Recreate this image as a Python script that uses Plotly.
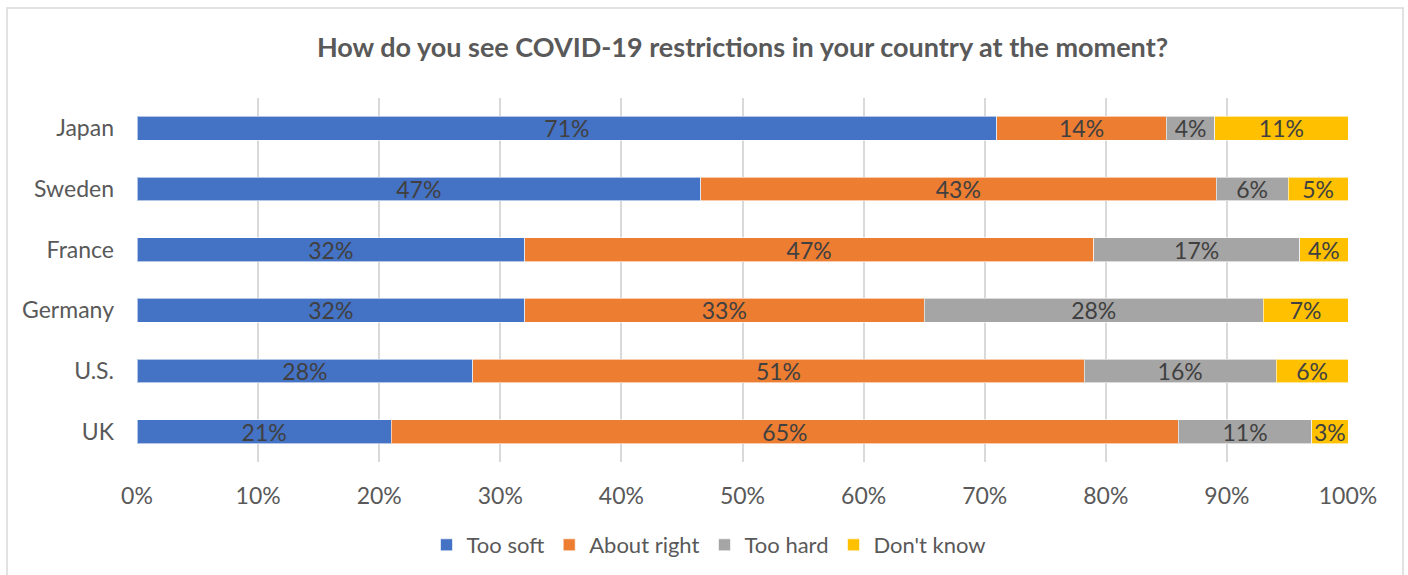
import plotly.graph_objects as go

countries = ["Japan", "Sweden", "France", "Germany", "U.S.", "UK"]
too_soft = [71, 47, 32, 32, 28, 21]
about_right = [14, 43, 47, 33, 51, 65]
too_hard = [4, 6, 17, 28, 16, 11]
dont_know = [11, 5, 4, 7, 6, 3]
tick_vals = [0, 10, 20, 30, 40, 50, 60, 70, 80, 90, 100]
tick_text = ["0%", "10%", "20%", "30%", "40%", "50%", "60%", "70%", "80%", "90%", "100%"]

series = [
    ("Too soft", too_soft, "#4472C4"),
    ("About right", about_right, "#ED7D31"),
    ("Too hard", too_hard, "#A5A5A5"),
    ("Don't know", dont_know, "#FFC000"),
]

FONT = "Lato"
FS = 23
fig = go.Figure()
for name, vals, color in series:
    fig.add_trace(go.Bar(
        y=countries, x=vals, name=name, orientation="h",
        marker=dict(color=color, line=dict(color="rgba(255,255,255,0.6)", width=1)),
        text=[f"{v}%" for v in vals], textposition="inside",
        insidetextanchor="middle", constraintext="none",
        textfont=dict(family=FONT, size=FS, color="#404040"),
    ))

W, H = 1408, 575
L, R, T, B = 137, 60, 98, 113
pw, ph = W - L - R, H - T - B

def px_x(p):
    return (p - L) / pw

def px_y(p):
    return (H - B - p) / ph

fig.update_layout(
    width=W, height=H,
    barmode="stack", barnorm="percent", bargap=0.605,
    margin=dict(l=L, r=R, t=T, b=B, autoexpand=False),
    paper_bgcolor="white", plot_bgcolor="white",
    font=dict(family=FONT, color="#595959"),
    title=dict(text="<b>How do you see COVID-19 restrictions in your country at the moment?</b>",
               x=0.5, xref="paper", xanchor="center", y=1 - 48 / H, yanchor="middle",
               font=dict(family=FONT, size=27, color="#595959")),
    xaxis=dict(range=[0, 100], tickvals=tick_vals, ticktext=tick_text, automargin=False,
               showgrid=True, gridcolor="#d9d9d9", gridwidth=1.5,
               zeroline=False, showline=False, ticks="",
               tickfont=dict(family=FONT, size=FS, color="#595959"), ticklabelstandoff=18),
    yaxis=dict(autorange="reversed", showgrid=False, zeroline=False, showline=False,
               automargin=False,
               ticks="", tickfont=dict(family=FONT, size=FS, color="#595959"),
               ticklabelstandoff=22),
    legend=dict(orientation="h", x=px_x(709), xanchor="center", y=px_y(545), yanchor="middle",
                font=dict(family=FONT, size=22, color="#595959"), traceorder="normal",
                itemwidth=30),
    showlegend=True,
    shapes=[dict(type="rect", xref="paper", yref="paper",
                 x0=px_x(7), x1=px_x(1403), y0=px_y(590), y1=px_y(8),
                 line=dict(color="#d9d9d9", width=1.5), fillcolor="rgba(0,0,0,0)", layer="below")],
)

fig.write_html("out.html")
